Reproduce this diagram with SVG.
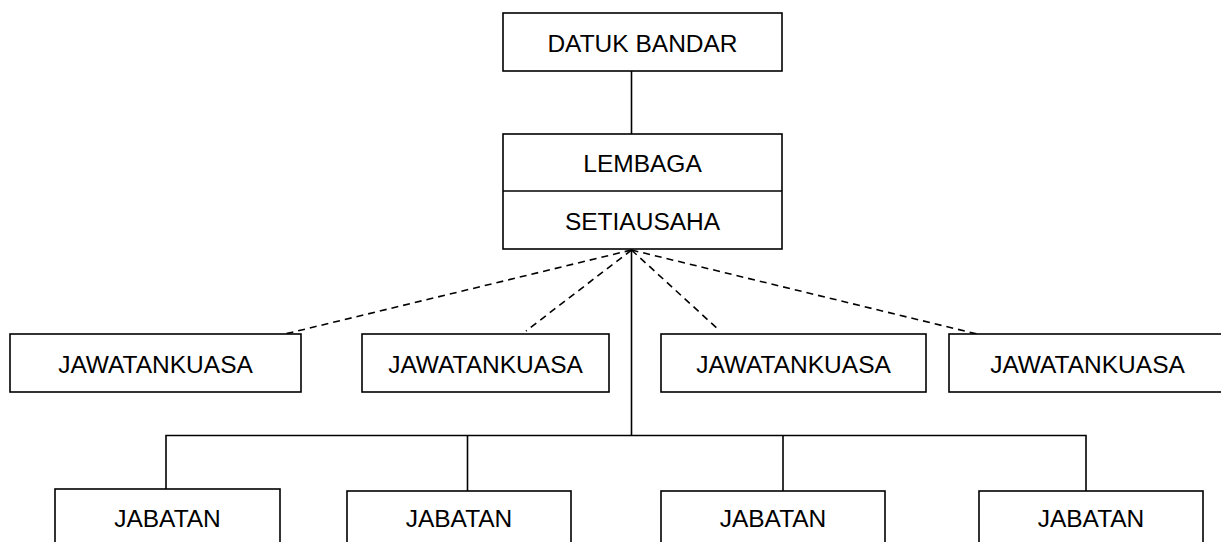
<svg xmlns="http://www.w3.org/2000/svg" width="1221" height="542" viewBox="0 0 1221 542">
<style>
.box{fill:#fff;stroke:#000;stroke-width:1.6}
.t{font-family:"Liberation Sans",Arial,sans-serif;font-size:24.5px;fill:#000;text-anchor:middle}
.ln{stroke:#000;stroke-width:1.6;fill:none}
.dash{stroke:#000;stroke-width:1.6;fill:none;stroke-dasharray:7 5}
</style>
<rect width="1221" height="542" fill="#fff"/>
<g id="connectors">
<line class="ln" x1="631.5" y1="71" x2="631.5" y2="134"/>
<line class="ln" x1="631.5" y1="249" x2="631.5" y2="436"/>
<polyline class="ln" points="166,489 166,435.5 1086,435.5 1086,491"/>
<line class="ln" x1="467.5" y1="435.5" x2="467.5" y2="491"/>
<line class="ln" x1="783" y1="435.5" x2="783" y2="491"/>
<line class="dash" x1="631.5" y1="250" x2="285" y2="334"/>
<line class="dash" x1="631.5" y1="250" x2="526" y2="331"/>
<line class="dash" x1="631.5" y1="250" x2="720" y2="331"/>
<line class="dash" x1="631.5" y1="250" x2="977" y2="334"/>
</g>
<g id="datuk-bandar">
<rect class="box" x="503" y="13" width="279" height="58"/>
<text class="t" x="642.5" y="52">DATUK BANDAR</text>
</g>
<g id="lembaga-setiausaha">
<rect class="box" x="503" y="134" width="279" height="115"/>
<line class="ln" x1="503" y1="191" x2="782" y2="191"/>
<text class="t" x="642.5" y="172">LEMBAGA</text>
<text class="t" x="642.5" y="230">SETIAUSAHA</text>
</g>
<g id="jawatankuasa-1">
<rect class="box" x="10" y="334" width="291" height="58"/>
<text class="t" x="155.5" y="373">JAWATANKUASA</text>
</g>
<g id="jawatankuasa-2">
<rect class="box" x="362" y="334" width="247" height="58"/>
<text class="t" x="485.5" y="373">JAWATANKUASA</text>
</g>
<g id="jawatankuasa-3">
<rect class="box" x="661" y="334" width="265" height="58"/>
<text class="t" x="793.5" y="373">JAWATANKUASA</text>
</g>
<g id="jawatankuasa-4">
<rect class="box" x="949" y="334" width="275" height="58"/>
<text class="t" x="1087.5" y="373">JAWATANKUASA</text>
</g>
<g id="jabatan-1">
<rect class="box" x="55" y="489" width="225" height="80"/>
<text class="t" x="167.5" y="527">JABATAN</text>
</g>
<g id="jabatan-2">
<rect class="box" x="347" y="491" width="224" height="80"/>
<text class="t" x="459" y="527">JABATAN</text>
</g>
<g id="jabatan-3">
<rect class="box" x="661" y="491" width="224" height="80"/>
<text class="t" x="773" y="527">JABATAN</text>
</g>
<g id="jabatan-4">
<rect class="box" x="979" y="491" width="224" height="80"/>
<text class="t" x="1091" y="527">JABATAN</text>
</g>
</svg>
